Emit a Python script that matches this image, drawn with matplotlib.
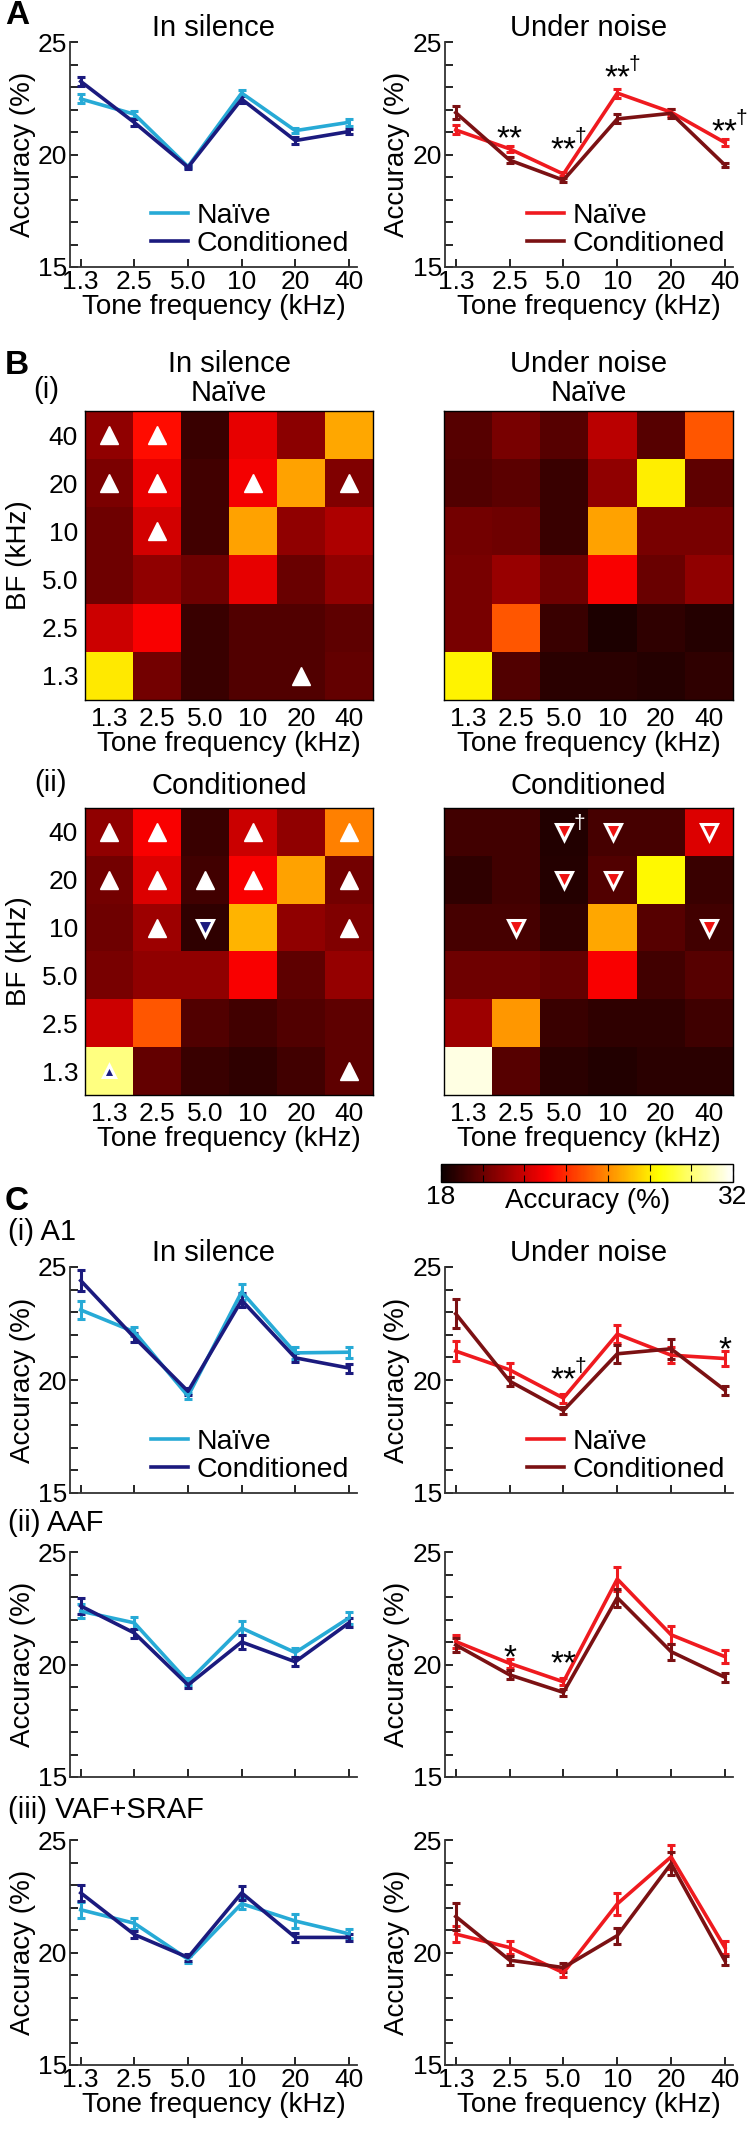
import numpy as np
import matplotlib
matplotlib.use('Agg')
import matplotlib.pyplot as plt
from matplotlib.ticker import MultipleLocator

plt.rcParams['font.family'] = ['Liberation Sans', 'DejaVu Sans']

W, H = 756, 2129

freqs = ['1.3', '2.5', '5.0', '10', '20', '40']
bf_labels = ['40', '20', '10', '5.0', '2.5', '1.3']   # heatmap rows, top to bottom

# colours
c_cyan = '#27aad6'
c_navy = '#1b1a7e'
c_red = '#ef1a1f'
c_dred = '#7b1113'

# font sizes
fs_tick = 19
fs_lab = 20
fs_title = 21

# ---- panel A (all areas) ----
a_sil_naive = [22.47, 21.79, 19.46, 22.73, 21.06, 21.43]
a_sil_naive_err = [0.2, 0.15, 0.08, 0.15, 0.12, 0.15]
a_sil_cond = [23.25, 21.42, 19.43, 22.46, 20.62, 21.02]
a_sil_cond_err = [0.2, 0.15, 0.08, 0.15, 0.15, 0.12]
a_noise_naive = [21.09, 20.25, 19.13, 22.73, 21.88, 20.53]
a_noise_naive_err = [0.2, 0.12, 0.1, 0.2, 0.15, 0.15]
a_noise_cond = [21.86, 19.75, 18.86, 21.58, 21.83, 19.53]
a_noise_cond_err = [0.3, 0.12, 0.1, 0.2, 0.2, 0.1]
a_noise_stars = [('2.5', 21.1, '**', False), ('5.0', 20.6, '**', True),
                 ('10', 23.8, '**', True), ('40', 21.4, '**', True)]

# ---- panel B heatmaps (rows BF 40 -> 1.3, cols tone 1.3 -> 40) ----
sil_naive_map = [
    [20.8, 23.4, 19.0, 22.6, 20.7, 26.6],
    [20.4, 22.7, 19.2, 22.9, 26.5, 20.5],
    [20.1, 22.2, 19.2, 26.5, 20.8, 21.4],
    [20.1, 20.8, 20.1, 22.6, 20.0, 20.8],
    [22.1, 23.0, 19.0, 19.5, 19.5, 19.8],
    [28.0, 20.2, 19.0, 19.5, 19.5, 19.9],
]
noise_naive_map = [
    [19.6, 20.3, 19.6, 21.7, 19.6, 24.9],
    [19.5, 19.7, 19.0, 20.8, 28.1, 19.8],
    [20.2, 20.1, 19.0, 26.5, 20.3, 20.3],
    [20.3, 21.0, 20.1, 23.0, 20.0, 20.8],
    [20.3, 24.9, 19.0, 18.4, 18.8, 18.6],
    [28.2, 19.5, 18.7, 18.7, 18.6, 18.8],
]
sil_cond_map = [
    [20.8, 23.0, 19.0, 22.0, 20.8, 25.8],
    [20.2, 22.4, 19.2, 23.0, 26.5, 20.2],
    [20.1, 21.1, 18.8, 26.9, 20.8, 20.5],
    [20.3, 20.8, 20.8, 23.0, 19.8, 20.9],
    [22.1, 24.9, 19.5, 19.2, 19.5, 19.8],
    [30.2, 19.9, 19.0, 18.8, 19.2, 19.8],
]
noise_cond_map = [
    [19.2, 19.2, 18.5, 19.3, 19.3, 22.4],
    [18.8, 19.2, 18.6, 19.5, 28.3, 19.0],
    [19.3, 19.3, 18.8, 26.6, 19.6, 19.2],
    [20.1, 20.1, 19.9, 23.0, 19.2, 19.6],
    [21.1, 26.3, 19.0, 18.8, 18.8, 19.1],
    [31.6, 19.6, 18.7, 18.5, 18.7, 18.7],
]
# significance markers (BF, tone)
sil_naive_up = [('40', '1.3'), ('40', '2.5'), ('20', '1.3'), ('20', '2.5'),
                ('20', '10'), ('20', '40'), ('10', '2.5'), ('1.3', '20')]
sil_cond_up = [('40', '1.3'), ('40', '2.5'), ('40', '10'), ('40', '40'),
               ('20', '1.3'), ('20', '2.5'), ('20', '5.0'), ('20', '10'), ('20', '40'),
               ('10', '2.5'), ('10', '40'), ('1.3', '40')]
sil_cond_down_navy = [('10', '5.0')]
sil_cond_up_navy = [('1.3', '1.3')]
noise_cond_down = [('40', '5.0'), ('40', '10'), ('40', '40'), ('20', '5.0'),
                   ('20', '10'), ('10', '2.5'), ('10', '40')]
noise_cond_dagger = [('40', '5.0')]

# ---- panel C by area ----
c1_sil_naive = [23.1, 22.13, 19.29, 23.9, 21.2, 21.23]
c1_sil_naive_err = [0.4, 0.2, 0.15, 0.35, 0.25, 0.25]
c1_sil_cond = [24.4, 21.88, 19.5, 23.53, 20.98, 20.53]
c1_sil_cond_err = [0.45, 0.2, 0.15, 0.3, 0.2, 0.2]
c1_noise_naive = [21.28, 20.45, 19.2, 22.03, 21.1, 20.95]
c1_noise_naive_err = [0.45, 0.3, 0.2, 0.4, 0.35, 0.35]
c1_noise_cond = [22.93, 19.95, 18.65, 21.16, 21.38, 19.55]
c1_noise_cond_err = [0.65, 0.2, 0.15, 0.4, 0.45, 0.2]
c1_noise_stars = [('5.0', 20.4, '**', True), ('40', 21.7, '*', False)]

c2_sil_naive = [22.37, 21.85, 19.23, 21.62, 20.53, 22.07]
c2_sil_naive_err = [0.3, 0.25, 0.15, 0.3, 0.2, 0.25]
c2_sil_cond = [22.6, 21.4, 19.09, 21.0, 20.12, 21.85]
c2_sil_cond_err = [0.35, 0.2, 0.15, 0.3, 0.2, 0.2]
c2_noise_naive = [21.02, 20.05, 19.23, 23.8, 21.32, 20.35]
c2_noise_naive_err = [0.3, 0.2, 0.15, 0.55, 0.4, 0.3]
c2_noise_cond = [20.87, 19.54, 18.76, 22.97, 20.57, 19.43]
c2_noise_cond_err = [0.3, 0.2, 0.15, 0.4, 0.35, 0.2]
c2_noise_stars = [('2.5', 20.7, '*', False), ('5.0', 20.4, '**', False)]

c3_sil_naive = [21.9, 21.3, 19.7, 22.17, 21.4, 20.83]
c3_sil_naive_err = [0.35, 0.25, 0.15, 0.25, 0.3, 0.2]
c3_sil_cond = [22.65, 20.8, 19.78, 22.65, 20.67, 20.67]
c3_sil_cond_err = [0.35, 0.15, 0.15, 0.3, 0.2, 0.15]
c3_noise_naive = [20.82, 20.22, 19.1, 22.16, 24.25, 20.22]
c3_noise_naive_err = [0.35, 0.3, 0.2, 0.5, 0.55, 0.3]
c3_noise_cond = [21.6, 19.66, 19.33, 20.75, 23.95, 19.63]
c3_noise_cond_err = [0.6, 0.2, 0.2, 0.35, 0.5, 0.2]


def box(x0, y0, x1, y1):
    return [x0 / W, 1 - y1 / H, (x1 - x0) / W, (y1 - y0) / H]


def ftext(x, y, s, **kw):
    fig.text(x / W, 1 - y / H, s, **kw)


def line_panel(ax, naive, naive_err, cond, cond_err, cn, cc,
               xlabels=True, legend=False, stars=None):
    x = np.arange(len(freqs))
    for vals, err, col in [(naive, naive_err, cn), (cond, cond_err, cc)]:
        ax.errorbar(x, vals, yerr=err, fmt='none', ecolor=col, elinewidth=2.2,
                    capsize=3, capthick=2.2)
    l1, = ax.plot(x, naive, color=cn, lw=2.6)
    l2, = ax.plot(x, cond, color=cc, lw=2.6)
    ax.set_xlim(-0.2, 5.15)
    ax.set_ylim(15, 25)
    ax.set_yticks([15, 20, 25])
    ax.yaxis.set_minor_locator(MultipleLocator(1))
    ax.set_xticks(x)
    ax.set_xticklabels(freqs if xlabels else [])
    ax.tick_params(direction='in', length=6, width=1.2, labelsize=fs_tick, pad=2)
    ax.tick_params(which='minor', direction='in', length=6, width=1.2)
    for s in ['top', 'right']:
        ax.spines[s].set_visible(False)
    for s in ['left', 'bottom']:
        ax.spines[s].set_color('#333333')
        ax.spines[s].set_linewidth(1.3)
    ax.set_ylabel('Accuracy (%)', fontsize=fs_lab)
    ax.yaxis.set_label_coords(-0.12, 0.5)
    if xlabels:
        ax.set_xlabel('Tone frequency (kHz)', fontsize=fs_lab, labelpad=0)
    if legend:
        ax.legend([l1, l2], ['Naïve', 'Conditioned'], loc='lower right',
                  bbox_to_anchor=(1.03, -0.03), frameon=False, fontsize=20.5,
                  handlelength=1.3, handletextpad=0.3, labelspacing=0.05,
                  borderaxespad=0.2)
    if stars:
        for f, y, s, dag in stars:
            xi = freqs.index(f)
            ax.annotate(s, (xi, y), xytext=(0, -13), textcoords='offset points',
                        ha='center', va='baseline', fontsize=24)
            if dag:
                ax.annotate('†', (xi, y), xytext=(12, 3), textcoords='offset points',
                            ha='center', va='center', fontsize=15)


def heat_panel(ax, data, ylabels=True):
    im = ax.imshow(np.array(data), cmap='hot', vmin=18, vmax=32, aspect='auto',
                   interpolation='nearest')
    ax.set_xticks(range(len(freqs)))
    ax.set_xticklabels(freqs)
    ax.set_yticks(range(len(bf_labels)))
    ax.set_yticklabels(bf_labels if ylabels else [])
    ax.tick_params(length=0, labelsize=fs_tick, pad=5)
    ax.set_xlabel('Tone frequency (kHz)', fontsize=fs_lab, labelpad=0)
    if ylabels:
        ax.set_ylabel('BF (kHz)', fontsize=fs_lab)
        ax.yaxis.set_label_coords(-0.185, 0.5)
    for s in ax.spines.values():
        s.set_linewidth(1.0)
    return im


def cell(b, f):
    return freqs.index(f), bf_labels.index(b)


fig = plt.figure(figsize=(W / 100, H / 100), dpi=100)

# ---------- A ----------
ax = fig.add_axes(box(70, 42, 357, 267))
line_panel(ax, a_sil_naive, a_sil_naive_err, a_sil_cond, a_sil_cond_err,
           c_cyan, c_navy, legend=True)
ax.set_title('In silence', fontsize=fs_title, pad=1)
ax = fig.add_axes(box(445, 42, 733, 267))
line_panel(ax, a_noise_naive, a_noise_naive_err, a_noise_cond, a_noise_cond_err,
           c_red, c_dred, legend=True, stars=a_noise_stars)
ax.set_title('Under noise', fontsize=fs_title, pad=1)

# ---------- B ----------
ax = fig.add_axes(box(85, 411, 373, 700))
heat_panel(ax, sil_naive_map)
ax.set_title('In silence\nNaïve', fontsize=fs_title, pad=7, linespacing=1.05)
for b, f in sil_naive_up:
    ax.plot(*cell(b, f), marker='^', ms=13, color='white', mec='white', ls='none')

ax = fig.add_axes(box(444, 411, 733, 700))
heat_panel(ax, noise_naive_map, ylabels=False)
ax.set_title('Under noise\nNaïve', fontsize=fs_title, pad=7, linespacing=1.05)

ax = fig.add_axes(box(85, 808, 373, 1095))
heat_panel(ax, sil_cond_map)
ax.set_title('Conditioned', fontsize=fs_title, pad=10)
for b, f in sil_cond_up:
    ax.plot(*cell(b, f), marker='^', ms=13, color='white', mec='white', ls='none')
for b, f in sil_cond_down_navy:
    ax.plot(*cell(b, f), marker='v', ms=12, color=c_navy, mec='white', mew=2.2, ls='none')
for b, f in sil_cond_up_navy:
    ax.plot(*cell(b, f), marker='^', ms=9, color=c_navy, mec='white', mew=2.2, ls='none')

ax = fig.add_axes(box(444, 808, 733, 1095))
im = heat_panel(ax, noise_cond_map, ylabels=False)
ax.set_title('Conditioned', fontsize=fs_title, pad=10)
for b, f in noise_cond_down:
    ax.plot(*cell(b, f), marker='v', ms=12, color='#ee1111', mec='white', mew=2.2, ls='none')
for b, f in noise_cond_dagger:
    ax.annotate('†', cell(b, f), xytext=(11, 6), textcoords='offset points',
                ha='center', va='center', fontsize=15, color='white')

cax = fig.add_axes(box(441, 1164, 733, 1182))
cb = fig.colorbar(im, cax=cax, orientation='horizontal')
cb.set_ticks(list(range(18, 33, 2)))
cb.set_ticklabels(['18', '', '', '', '', '', '', '32'])
cax.tick_params(direction='in', length=5, top=True, bottom=True, labelsize=fs_tick, pad=2)
cb.outline.set_linewidth(1.0)
ftext(588, 1201, 'Accuracy (%)', fontsize=fs_lab, ha='center', va='center')

# ---------- C ----------
rows = [
    (1267, 1493, c1_sil_naive, c1_sil_naive_err, c1_sil_cond, c1_sil_cond_err,
     c1_noise_naive, c1_noise_naive_err, c1_noise_cond, c1_noise_cond_err, c1_noise_stars),
    (1552, 1777, c2_sil_naive, c2_sil_naive_err, c2_sil_cond, c2_sil_cond_err,
     c2_noise_naive, c2_noise_naive_err, c2_noise_cond, c2_noise_cond_err, c2_noise_stars),
    (1840, 2065, c3_sil_naive, c3_sil_naive_err, c3_sil_cond, c3_sil_cond_err,
     c3_noise_naive, c3_noise_naive_err, c3_noise_cond, c3_noise_cond_err, None),
]
for i, (y0, y1, sn, sne, sc, sce, nn, nne, nc, nce, st) in enumerate(rows):
    last = i == 2
    ax = fig.add_axes(box(70, y0, 357, y1))
    line_panel(ax, sn, sne, sc, sce, c_cyan, c_navy, xlabels=last, legend=(i == 0))
    if i == 0:
        ax.set_title('In silence', fontsize=fs_title, pad=1)
    ax = fig.add_axes(box(445, y0, 733, y1))
    line_panel(ax, nn, nne, nc, nce, c_red, c_dred, xlabels=last, legend=(i == 0), stars=st)
    if i == 0:
        ax.set_title('Under noise', fontsize=fs_title, pad=1)

# panel letters and row labels
ftext(5, 15, 'A', fontsize=24, fontweight='bold', va='center')
ftext(5, 365, 'B', fontsize=24, fontweight='bold', va='center')
ftext(5, 1202, 'C', fontsize=24, fontweight='bold', va='center')
ftext(46, 390, '(i)', fontsize=21, ha='center', va='center')
ftext(50, 783, '(ii)', fontsize=21, ha='center', va='center')
ftext(8, 1232, '(i) A1', fontsize=21, va='center')
ftext(8, 1523, '(ii) AAF', fontsize=21, va='center')
ftext(8, 1810, '(iii) VAF+SRAF', fontsize=21, va='center')

fig.savefig('out.png', dpi=100)
